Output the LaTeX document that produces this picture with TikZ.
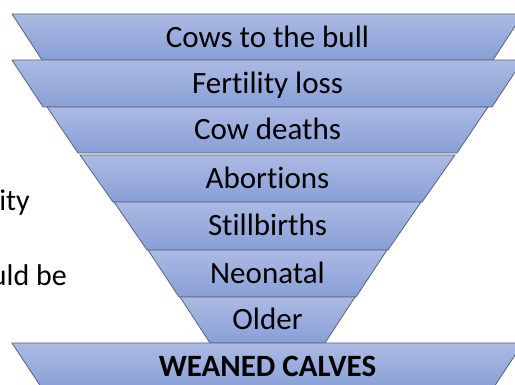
\documentclass[tikz,border=0pt]{standalone}
\usepackage{fontspec}
\setmainfont[Ligatures=NoCommon]{Carlito}
\definecolor{fillTop}{RGB}{172,186,227}
\definecolor{fillBot}{RGB}{136,159,214}
\definecolor{edgeCol}{RGB}{88,100,125}
\begin{document}
\begin{tikzpicture}[x=1pt,y=-1pt,
  layer/.style={top color=fillTop, bottom color=fillBot, draw=edgeCol, line width=0.8pt},
  lbl/.style={font=\fontsize{31}{37}\selectfont, text=black, inner sep=0pt, anchor=base},
  sidetxt/.style={font=\fontsize{30}{36}\selectfont, text=black, inner sep=0pt, anchor=base east}]
\useasboundingbox (0,0) rectangle (515,385);
\clip (0,0) rectangle (515,385);
\def\cx{267.5}
% layers: top y / bottom y / top-left x / bottom-left x
\foreach \t/\b/\l/\bl in {14/60/12/42, 60/107/12/43, 107/153/47/78, 155/202/80/113, 202/250/114/147, 250/297/148/179, 297/343/180/210, 343/390/12/43}{
  \path[layer] (\l,\t) -- (535-\l,\t) -- (535-\bl,\b) -- (\bl,\b) -- cycle;
}
\node[lbl] (n1) at (\cx,47.5) {Cows to the bull};
\node[lbl] (n2) at (\cx,93.5) {Fertility loss};
\node[lbl] (n3) at (\cx,140) {Cow deaths};
\node[lbl] (n4) at (\cx,188.5) {Abortions};
\node[lbl] (n5) at (\cx,235.5) {Stillbirths};
\node[lbl] (n6) at (\cx,283.5) {Neonatal};
\node[lbl] (n7) at (\cx,330) {Older};
\node[lbl,font=\fontsize{31}{37}\selectfont\bfseries] (n8) at (\cx,377) {WEANED CALVES};
\node[sidetxt] (s1) at (30,211) {ity};
\node[sidetxt] (s2) at (67,286) {uld be};
\end{tikzpicture}
\end{document}
